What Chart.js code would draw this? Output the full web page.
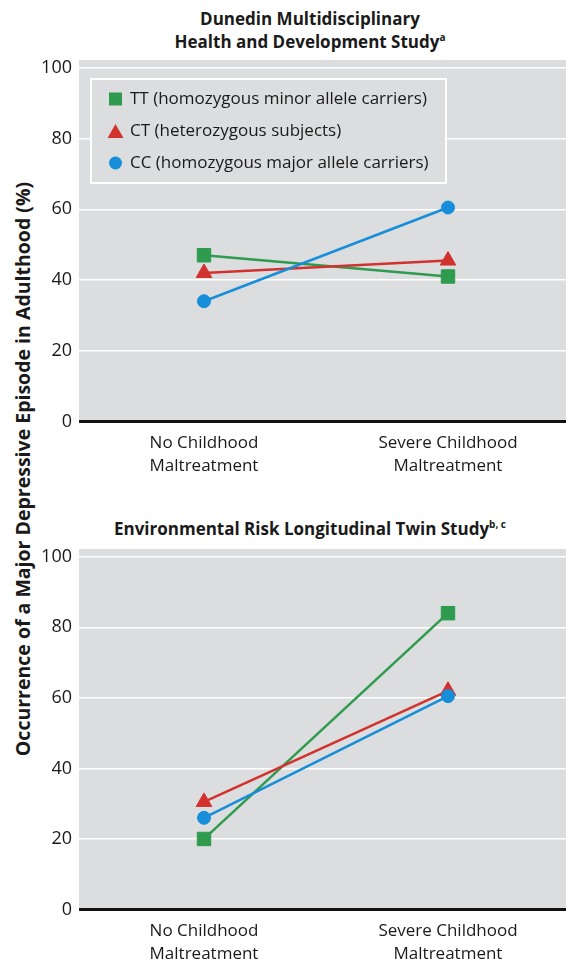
<!DOCTYPE html>
<html><head><meta charset="utf-8">
<script src="https://cdn.jsdelivr.net/npm/chart.js@4"></script>
<style>
html,body{margin:0;padding:0;background:#fff;overflow:hidden;width:566px;height:964px;}
.title{position:absolute;left:0;width:620px;text-align:center;font-family:"Open Sans";font-weight:bold;font-size:17px;color:#1a1a1a;line-height:23px;}
.title sup{font-size:10px;line-height:0;vertical-align:0;position:relative;top:-7px;}
#ytitle{position:absolute;left:-277px;top:456px;width:600px;height:26px;line-height:26px;text-align:center;font-family:"Open Sans";font-weight:bold;font-size:19.5px;color:#1a1a1a;transform:rotate(-90deg);transform-origin:50% 50%;white-space:nowrap;}
.wrap{position:absolute;left:0;width:570px;}
</style></head>
<body>
<div class="title" style="top:6.5px">Dunedin Multidisciplinary<br>Health and Development Study<sup>a</sup></div>
<div class="title" style="top:516.5px">Environmental Risk Longitudinal Twin Study<sup>b, c</sup></div>
<div id="ytitle">Occurrence of a Major Depressive Episode in Adulthood (%)</div>
<div class="wrap" style="top:54px;height:430px"><canvas id="c1"></canvas></div>
<div class="wrap" style="top:543px;height:421px"><canvas id="c2"></canvas></div>
<script>
// ---- data ----
const categories = [["No Childhood", "Maltreatment"], ["Severe Childhood", "Maltreatment"]];
const seriesLabels = ["TT (homozygous minor allele carriers)", "CT (heterozygous subjects)", "CC (homozygous major allele carriers)"];
const dunedinTT = [47, 41];
const dunedinCT = [42, 45.5];
const dunedinCC = [34, 60.5];
const eriskTT = [20, 84];
const eriskCT = [30.5, 62];
const eriskCC = [26, 60.5];
const yTicks = [0, 20, 40, 60, 80, 100];

// ---- styles ----
const GREEN = '#2e9b4e', RED = '#d1322e', BLUE = '#168ed9', PANEL = '#dcdddf', INK = '#1a1a1a';
const styles = [
  {color: GREEN, pointStyle: 'rect', radius: 9.5, order: 2},
  {color: RED, pointStyle: 'triangle', radius: 9, order: 1},
  {color: BLUE, pointStyle: 'circle', radius: 6.5, order: 0}
];

const panelBg = {
  id: 'panelBg',
  beforeDraw(chart) {
    const a = chart.chartArea, ctx = chart.ctx;
    ctx.save();
    ctx.fillStyle = PANEL;
    ctx.fillRect(a.left - 3, a.top, a.right - a.left + 3, a.bottom - a.top);
    ctx.restore();
  }
};

const insideLegend = {
  id: 'insideLegend',
  afterDraw(chart, args, opts) {
    if (!opts.show) return;
    const ctx = chart.ctx;
    ctx.save();
    const bx = 90, by = 24, bw = 357, bh = 106;
    ctx.fillStyle = PANEL;
    ctx.fillRect(bx, by, bw, bh);
    ctx.strokeStyle = '#ffffff';
    ctx.lineWidth = 2;
    ctx.strokeRect(bx + 1, by + 1, bw - 2, bh - 2);
    const rows = [45, 77, 109];
    const mk = [{r: 9.2, dy: 0}, {r: 9.2, dy: 2.3}, {r: 6.5, dy: 0}];
    chart.data.datasets.forEach((ds, i) => {
      ctx.fillStyle = ds.backgroundColor;
      ctx.strokeStyle = ds.borderColor;
      Chart.helpers.drawPoint(ctx, {pointStyle: ds.pointStyle, rotation: 0, radius: mk[i].r, borderWidth: 0}, 115.5, rows[i] + mk[i].dy);
      ctx.fillStyle = INK;
      ctx.font = '17px "Open Sans"';
      ctx.textBaseline = 'middle';
      ctx.textAlign = 'left';
      ctx.fillText(ds.label, 130, rows[i]);
    });
    ctx.restore();
  }
};

function makeChart(id, series, xAxisHeight, showLegend) {
  const datasets = series.map((vals, i) => ({
    label: seriesLabels[i],
    data: vals,
    borderColor: styles[i].color,
    backgroundColor: styles[i].color,
    pointStyle: styles[i].pointStyle,
    pointRadius: styles[i].radius,
    pointHoverRadius: styles[i].radius,
    pointBorderWidth: 1,
    borderWidth: 2.5,
    order: styles[i].order,
    tension: 0
  }));
  return new Chart(document.getElementById(id), {
    type: 'line',
    data: {labels: categories, datasets},
    plugins: [panelBg, insideLegend],
    options: {
      responsive: true,
      maintainAspectRatio: false,
      animation: false,
      events: [],
      layout: {autoPadding: false, padding: {top: 6, left: 0, right: 0, bottom: 0}},
      plugins: {legend: {display: false}, tooltip: {enabled: false}, title: {display: false}, insideLegend: {show: showLegend}},
      scales: {
        x: {
          offset: true,
          grid: {display: false, drawTicks: false},
          border: {display: false},
          afterFit: s => { s.height = xAxisHeight; s.paddingLeft = 0; s.paddingRight = 0; },
          ticks: {font: {family: 'Open Sans', size: 17, lineHeight: 1.353}, color: INK, padding: 10, maxRotation: 0, autoSkip: false}
        },
        y: {
          min: 0, max: 102.2,
          afterBuildTicks: s => { s.ticks = yTicks.map(v => ({value: v})); },
          afterFit: s => { s.width = 82; s.paddingTop = 0; s.paddingBottom = 0; },
          border: {display: false},
          grid: {
            color: c => (c.tick && c.tick.value === 0) ? '#111111' : '#ffffff',
            tickColor: c => (c.tick && c.tick.value === 0) ? '#111111' : '#ffffff',
            lineWidth: c => (c.tick && c.tick.value === 0) ? 3 : 1.5,
            drawTicks: true, tickLength: 3
          },
          ticks: {font: {family: 'Open Sans', size: 18}, color: INK, padding: 7}
        }
      }
    }
  });
}

makeChart('c1', [dunedinTT, dunedinCT, dunedinCC], 62.5, true);
makeChart('c2', [eriskTT, eriskCT, eriskCC], 54.5, false);
</script>
</body></html>
